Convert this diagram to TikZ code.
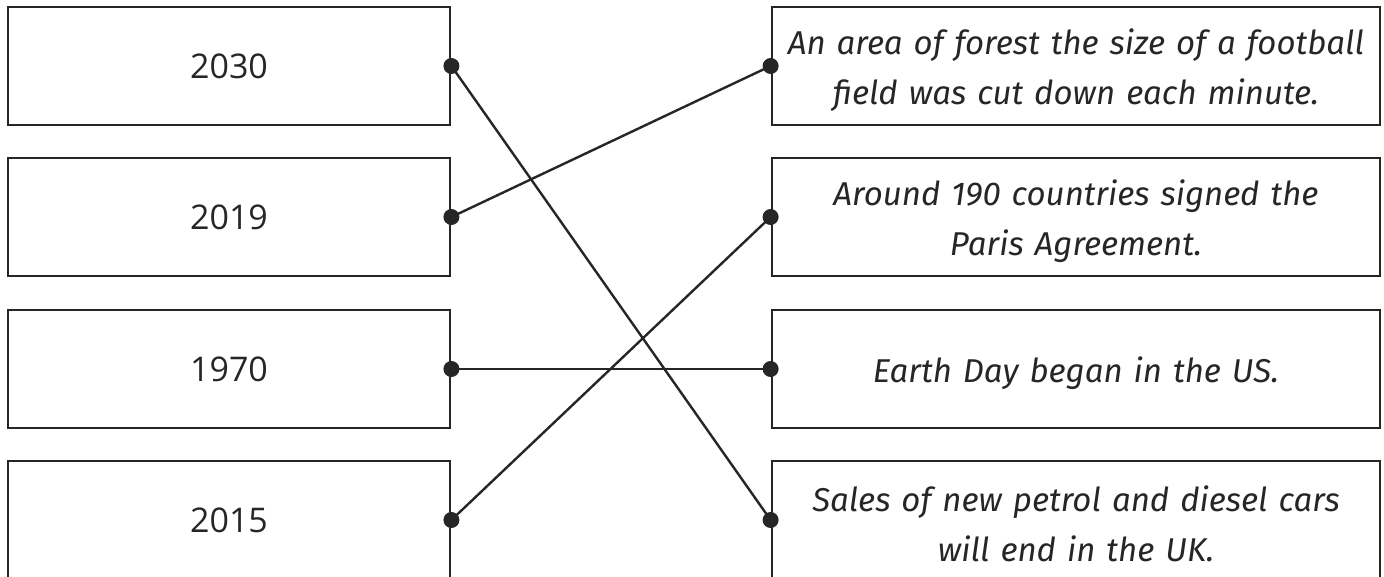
\documentclass[tikz,border=0pt]{standalone}
\usepackage{fontspec}
\setmainfont{Open Sans}
\newfontfamily\handfont{Fira Sans}[ItalicFont={Fira Sans Italic}]
\definecolor{ink}{HTML}{262626}
\begin{document}
\begin{tikzpicture}[x=1pt,y=-1pt,
  yearbox/.style={draw=ink, line width=2.8pt, minimum width=442pt, minimum height=118pt,
    inner sep=0pt, font=\fontsize{34}{40}\selectfont, text=ink},
  factbox/.style={draw=ink, line width=2.8pt, minimum width=608pt, minimum height=118pt,
    inner sep=0pt},
  facttext/.style={text width=600pt, inner sep=0pt, align=center, yshift=-4pt,
    font=\handfont\itshape\fontsize{33}{50}\selectfont, text=ink},
  link/.style={draw=ink, line width=2.4pt},
  dot/.style={circle, fill=ink, inner sep=0pt, minimum size=16pt}]
\useasboundingbox (0,0) rectangle (1384,577);
\fill[white] (0,0) rectangle (1384,577);
% left boxes
\node[yearbox] (L1) at (229,66) {2030};
\node[yearbox] (L2) at (229,217) {2019};
\node[yearbox] (L3) at (229,369) {1970};
\node[yearbox] (L4) at (229,520) {2015};
% right boxes
\node[factbox] (R1) at (1076,66) {};
\node[factbox] (R2) at (1076,217) {};
\node[factbox] (R3) at (1076,369) {};
\node[factbox] (R4) at (1076,520) {};
\node[facttext] (T1) at (R1.center) {An area of forest the size of a football\\field was cut down each minute.};
\node[facttext] (T2) at (R2.center) {Around 190 countries signed the\\Paris Agreement.};
\node[facttext] (T3) at (R3.center) {Earth Day began in the US.};
\node[facttext] (T4) at (R4.center) {Sales of new petrol and diesel cars\\will end in the UK.};
% connectors
\draw[link] (L1.east) -- (R4.west);
\draw[link] (L2.east) -- (R1.west);
\draw[link] (L3.east) -- (R3.west);
\draw[link] (L4.east) -- (R2.west);
% dots
\foreach \n in {L1,L2,L3,L4} \node[dot] (d\n) at (\n.east) {};
\foreach \n in {R1,R2,R3,R4} \node[dot] (d\n) at (\n.west) {};
\end{tikzpicture}
\end{document}
